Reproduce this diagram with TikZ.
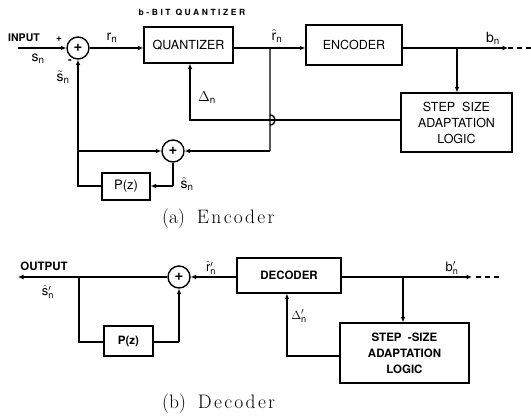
\documentclass[tikz,border=0pt]{standalone}
\usepackage{fontspec}
\setsansfont{TeX Gyre Heros}
\usetikzlibrary{arrows.meta}
\newcommand\lsp{\kern2.3pt}
\tikzset{
  wire/.style={line width=1.4pt},
  arr/.style={wire,-{Latex[length=5.5pt,width=5pt]}},
  blk/.style={draw,line width=1.4pt,inner sep=0pt,align=center,
    font=\sffamily\fontsize{12.5}{16}\selectfont},
  dblk/.style={blk,font=\sffamily\bfseries\fontsize{11.5}{16}\selectfont},
  sumc/.style={draw,circle,line width=1.4pt,minimum size=22pt,inner sep=0pt,
    font=\sffamily\bfseries\fontsize{15}{15}\selectfont},
  lbl/.style={inner sep=0pt,font=\sffamily\fontsize{14}{14}\selectfont},
  dlbl/.style={inner sep=0pt,font=\sffamily\bfseries\fontsize{13}{13}\selectfont},
  tag/.style={inner sep=0pt,font=\sffamily\bfseries\fontsize{10.5}{12}\selectfont},
  captxt/.style={inner sep=0pt,anchor=west,font=\fontsize{19.5}{22}\selectfont},
}
\begin{document}
\begin{tikzpicture}[x=1pt,y=-1pt]
\useasboundingbox (0,0) rectangle (531,417);

% ================= ENCODER =================
\node[sumc] (s1) at (78,48) {+};
\node[sumc] (s2) at (173,151) {+};
\node[blk,minimum width=89pt,minimum height=36pt] (q) at (188.5,45) {QUANTIZER};
\node[blk,minimum width=96pt,minimum height=40pt] (enc) at (354,45) {ENCODER};
\node[blk,minimum width=111pt,minimum height=59pt] (ss1) at (456.5,122.5)
  {STEP\ \ SIZE\\ADAPTATION\\LOGIC};
\node[blk,minimum width=48pt,minimum height=27pt,font=\sffamily\fontsize{13}{13}\selectfont] (p1) at (126,186.5) {P(z)};

\coordinate (in1) at (18,48);
\coordinate (j1) at (270,48);
\coordinate (j2) at (457,48);
\coordinate (bout) at (508,48);
\coordinate (dend) at (531,48);
\coordinate (dl) at (190,120);
\coordinate (c2) at (270,151);
\coordinate (j3) at (78,151);
\coordinate (c3) at (173,186);
\coordinate (c4) at (78,186);

\draw[arr] (in1) -- (s1.west);
\draw[arr] (s1.east) -- (q.west |- s1);
\draw[wire] (q.east |- j1) -- (j1);
\draw[arr] (j1) -- (enc.west |- j1);
\draw[arr] (enc.east |- j1) -- (bout);
\draw[wire,dash pattern=on 5pt off 4pt] (bout) -- (dend);
\draw[arr] (j2) -- (ss1.north -| j2);
\draw[arr] (ss1.west |- dl) -- (dl) -- (q.south -| dl);
\draw[wire] (j1) -- ([yshift=-5pt]j1 |- dl) to[out=0,in=0,looseness=1.7] ([yshift=5pt]j1 |- dl) -- (c2);
\draw[arr] (c2) -- (s2.east);
\draw[arr] (j3) -- (s2.west);
\draw[wire] (s2.south) -- (c3);
\draw[arr] (c3) -- (p1.east |- c3);
\draw[wire] (p1.west |- c4) -- (c4) -- (j3);
\draw[arr] (j3) -- (s1.south);

\node[tag] (tin) at (24,38) {INPUT};
\node[lbl] (lsn) at (38,59) {s\textsubscript{n}};
\node[lbl,font=\sffamily\bfseries\fontsize{10}{10}\selectfont] (lp) at (59,39) {+};
\node[lbl,font=\sffamily\bfseries\fontsize{11}{11}\selectfont] (lm) at (70,62) {-};
\node[lbl] (lst) at (63,77) {$\tilde{\mathsf{s}}_{\mathsf{n}}$};
\node[lbl] (lrn) at (112,38) {r\textsubscript{n}};
\node[inner sep=0pt,font=\sffamily\bfseries\fontsize{8.5}{9}\selectfont\addfontfeatures{LetterSpace=30}] (lbb) at (192,13) {b-BIT QUANTIZER};
\node[lbl] (lrh) at (277,36) {$\hat{\mathsf{r}}_{\mathsf{n}}$};
\node[lbl] (lbn) at (493,38) {b\textsubscript{n}};
\node[lbl] (ldn) at (207,98) {$\Delta_{\mathsf{n}}$};
\node[lbl] (lsh) at (187,184) {$\hat{\mathsf{s}}_{\mathsf{n}}$};

\node[captxt] (capa) at (162,219) {(a)\hspace{12pt}E\lsp n\lsp c\lsp o\lsp d\lsp e\lsp r};

% ================= DECODER =================
\node[sumc] (s3) at (179,277) {+};
\node[dblk,minimum width=104pt,minimum height=35pt] (dec) at (289,275.5) {DECODER};
\node[dblk,minimum width=129pt,minimum height=60pt] (ss2) at (404.5,353)
  {STEP \ -SIZE\\ADAPTATION\\LOGIC};
\node[dblk,minimum width=49pt,minimum height=30pt] (p2) at (128.5,341) {P(z)};

\coordinate (out) at (18,277);
\coordinate (j4) at (79,277);
\coordinate (c5) at (79,342);
\coordinate (c6) at (179,342);
\coordinate (j5) at (403,277);
\coordinate (bin) at (472,277);
\coordinate (dend2) at (500,277);
\coordinate (dl2) at (287,356);

\draw[arr] (s3.west) -- (out);
\draw[arr] (dec.west |- s3) -- (s3.east);
\draw[arr] (dec.east |- bin) -- (bin);
\draw[wire,dash pattern=on 5pt off 4pt] ([xshift=4pt]bin) -- (dend2);
\draw[arr] (j5) -- (ss2.north -| j5);
\draw[arr] (ss2.west |- dl2) -- (dl2) -- (dec.south -| dl2);
\draw[wire] (j4) -- (c5) -- (p2.west |- c5);
\draw[wire] (p2.east |- c6) -- (c6);
\draw[arr] (c6) -- (s3.south);

\node[tag,font=\sffamily\bfseries\fontsize{11.5}{12}\selectfont] (tout) at (44,266) {OUTPUT};
\node[dlbl] (lso) at (48,292) {$\hat{\mathsf{s}}'_{\mathsf{n}}$};
\node[dlbl] (lro) at (211,268) {$\hat{\mathsf{r}}'_{\mathsf{n}}$};
\node[dlbl] (lbo) at (452,268) {$\mathsf{b}'_{\mathsf{n}}$};
\node[dlbl] (ldo) at (299,316) {$\Delta'_{\mathsf{n}}$};

\node[captxt] (capb) at (162,404) {(b)\hspace{12pt}D\lsp e\lsp c\lsp o\lsp d\lsp e\lsp r};
\end{tikzpicture}
\end{document}
